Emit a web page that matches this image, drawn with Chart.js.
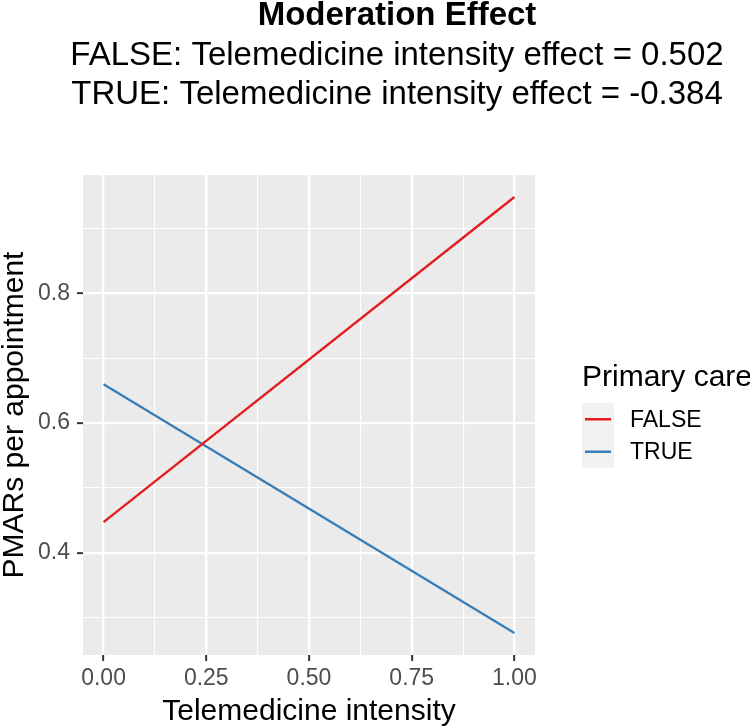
<!DOCTYPE html>
<html>
<head>
<meta charset="utf-8">
<script src="https://cdn.jsdelivr.net/npm/chart.js@4.4.1/dist/chart.umd.min.js"></script>
<style>
  html, body { margin: 0; padding: 0; background: #ffffff; }
  #wrap { width: 750px; height: 727px; position: relative; }
</style>
</head>
<body>
<div id="wrap"><canvas id="c" width="750" height="727"></canvas></div>
<script>
// ---- data ----
const titleText = "Moderation Effect";
const subtitleLines = [
  "FALSE: Telemedicine intensity effect = 0.502",
  "TRUE: Telemedicine intensity effect = -0.384"
];
const seriesNames = ["FALSE", "TRUE"];
const seriesColors = ["#e41a1c", "#377eb8"];
const xValues = [0.0, 1.0];
const falseValues = [0.447, 0.949];
const trueValues = [0.660, 0.276];
const xMajorTicks = [0, 0.25, 0.5, 0.75, 1.0];
const xTickLabels = ["0.00", "0.25", "0.50", "0.75", "1.00"];
const xMinorTicks = [0.125, 0.375, 0.625, 0.875];
const yMajorTicks = [0.4, 0.6, 0.8];
const yTickLabels = ["0.4", "0.6", "0.8"];
const yMinorTicks = [0.3, 0.5, 0.7, 0.9];
const xAxisTitle = "Telemedicine intensity";
const yAxisTitle = "PMARs per appointment";
const legendTitle = "Primary care";

const FONT = "'Liberation Sans', Arial, Helvetica, sans-serif";

function isMajor(list, v) { return list.some(t => Math.abs(t - v) < 1e-9); }
function labelFor(majors, labels, v) {
  const i = majors.findIndex(t => Math.abs(t - v) < 1e-9);
  return i >= 0 ? labels[i] : "";
}

const panelBg = {
  id: "panelBg",
  beforeDraw(chart) {
    const a = chart.chartArea, ctx = chart.ctx;
    ctx.save();
    ctx.fillStyle = "#ebebeb";
    ctx.fillRect(a.left, a.top, a.right - a.left, a.bottom - a.top);
    ctx.restore();
  }
};

const decorations = {
  id: "decorations",
  afterDraw(chart) {
    const ctx = chart.ctx;
    ctx.save();
    // header
    ctx.fillStyle = "#000000";
    ctx.textAlign = "center";
    ctx.textBaseline = "alphabetic";
    ctx.font = "bold 33px " + FONT;
    ctx.fillText(titleText, 397, 25);
    ctx.font = "33px " + FONT;
    ctx.fillText(subtitleLines[0], 397, 65);
    ctx.fillText(subtitleLines[1], 397, 103.5);

    // legend
    ctx.textAlign = "left";
    ctx.textBaseline = "middle";
    ctx.font = "30px " + FONT;
    ctx.fillStyle = "#000000";
    ctx.fillText(legendTitle, 582, 378);
    const ds = chart.data.datasets;
    const keyTop = 403, keyH = 32.5;
    ctx.fillStyle = "#f2f2f2";
    ctx.fillRect(582, keyTop, 32, keyH * ds.length);
    ds.forEach((d, i) => {
      const cy = keyTop + keyH * i + keyH / 2;
      ctx.strokeStyle = d.borderColor;
      ctx.lineWidth = 2.5;
      ctx.beginPath();
      ctx.moveTo(585, cy);
      ctx.lineTo(611, cy);
      ctx.stroke();
      ctx.fillStyle = "#000000";
      ctx.font = "23px " + FONT;
      ctx.fillText(d.label, 630, cy + 1);
    });
    ctx.restore();
  }
};

const datasets = [falseValues, trueValues].map((vals, i) => ({
  label: seriesNames[i],
  data: xValues.map((x, j) => ({ x: x, y: vals[j] })),
  borderColor: seriesColors[i],
  backgroundColor: seriesColors[i],
  borderWidth: 2.3,
  pointRadius: 0,
  tension: 0,
  fill: false
}));

new Chart(document.getElementById("c"), {
  type: "line",
  data: { datasets: datasets },
  options: {
    responsive: false,
    animation: false,
    layout: { padding: { top: 175, right: 215, left: 0, bottom: 0 } },
    plugins: { legend: { display: false }, title: { display: false }, tooltip: { enabled: false } },
    scales: {
      x: {
        type: "linear",
        min: -0.05,
        max: 1.05,
        afterBuildTicks(scale) {
          scale.ticks = xMajorTicks.concat(xMinorTicks).sort((a, b) => a - b).map(v => ({ value: v }));
        },
        afterFit(scale) { scale.height = 72; },
        border: { display: false },
        grid: {
          color: "#ffffff",
          lineWidth: c => isMajor(xMajorTicks, c.tick.value) ? 2.3 : 1.1,
          tickColor: c => isMajor(xMajorTicks, c.tick.value) ? "#333333" : "rgba(0,0,0,0)",
          tickWidth: 2,
          tickLength: 6,
          drawTicks: true
        },
        ticks: {
          autoSkip: false,
          maxRotation: 0,
          padding: 4,
          color: "#4d4d4d",
          font: { family: FONT, size: 23 },
          callback: v => labelFor(xMajorTicks, xTickLabels, v)
        },
        title: {
          display: true,
          text: xAxisTitle,
          color: "#000000",
          font: { family: FONT, size: 30, lineHeight: 1.0 },
          padding: { top: 0, bottom: 0 }
        }
      },
      y: {
        type: "linear",
        min: 0.242,
        max: 0.983,
        afterBuildTicks(scale) {
          scale.ticks = yMajorTicks.concat(yMinorTicks).sort((a, b) => a - b).map(v => ({ value: v }));
        },
        afterFit(scale) { scale.width = 83; },
        border: { display: false },
        grid: {
          color: "#ffffff",
          lineWidth: c => isMajor(yMajorTicks, c.tick.value) ? 2.3 : 1.1,
          tickColor: c => isMajor(yMajorTicks, c.tick.value) ? "#333333" : "rgba(0,0,0,0)",
          tickWidth: 2,
          tickLength: 6,
          drawTicks: true
        },
        ticks: {
          autoSkip: false,
          padding: 7,
          color: "#4d4d4d",
          font: { family: FONT, size: 23 },
          callback: v => labelFor(yMajorTicks, yTickLabels, v)
        },
        title: {
          display: true,
          text: yAxisTitle,
          color: "#000000",
          font: { family: FONT, size: 30, lineHeight: 1.0 },
          padding: { top: 0, bottom: 0 }
        }
      }
    }
  },
  plugins: [panelBg, decorations]
});
</script>
</body>
</html>
